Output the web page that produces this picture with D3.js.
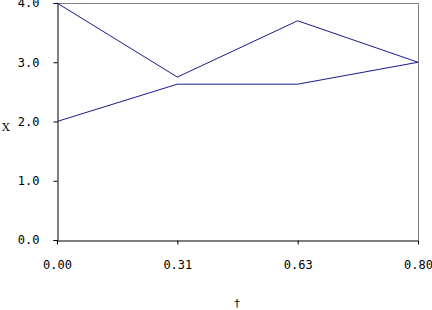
<!DOCTYPE html>
<html>
<head>
<meta charset="utf-8">
<script src="https://cdn.jsdelivr.net/npm/d3@7"></script>
<style>
  body { margin: 0; background: #fff; }
  text { font-family: "DejaVu Sans Mono", monospace; font-size: 11px; fill: #000; }
</style>
</head>
<body>
<div id="chart"></div>
<script>
// category labels along the bottom axis
var categories = ["0.00", "0.31", "0.63", "0.80"];
// the two series
var seriesA = [4.0, 2.75, 3.7, 3.0];
var seriesB = [2.0, 2.63, 2.63, 3.0];
var yTicks = [0, 1, 2, 3, 4];

var width = 432, height = 310,
    margin = { top: 3, right: 14, bottom: 70, left: 57 },
    plotW = 418 - margin.left,
    plotH = 240 - margin.top;

var svg = d3.select("#chart").append("svg")
    .attr("width", width)
    .attr("height", height);

var g = svg.append("g")
    .attr("transform", "translate(" + margin.left + "," + margin.top + ")");

var x = d3.scalePoint().domain(categories).range([0, plotW]);
var y = d3.scaleLinear().domain([0, 4]).range([plotH, 0]);

// grey frame on top and right
g.append("path")
    .attr("d", "M0.5,0.5H" + (plotW + 0.5) + "V" + plotH)
    .attr("fill", "none")
    .attr("stroke", "#808080");

// y axis
var yAxis = g.append("g")
    .attr("transform", "translate(0.5,0)")
    .call(d3.axisLeft(y).tickValues(yTicks).tickFormat(d3.format(".1f")).tickSize(4).tickPadding(14));
yAxis.select(".domain").attr("stroke", "#000");
yAxis.selectAll("text").style("font-size", "12px");

// x axis
var xAxis = g.append("g")
    .attr("transform", "translate(0," + (plotH + 0.5) + ")")
    .call(d3.axisBottom(x).tickSize(4).tickPadding(16).tickSizeOuter(0));
xAxis.select(".domain").attr("stroke", "#000");
xAxis.selectAll("text").style("font-size", "12px");

var line = d3.line()
    .x(function (d, i) { return x(categories[i]); })
    .y(function (d) { return y(d); });

[seriesA, seriesB].forEach(function (s) {
    g.append("path")
        .datum(s)
        .attr("d", line)
        .attr("fill", "none")
        .attr("stroke", "#1a1a8c")
        .attr("stroke-width", 1);
});

// axis titles
svg.append("text")
    .attr("x", 6)
    .attr("y", 131)
    .attr("text-anchor", "middle")
    .style("font-family", "'DejaVu Serif', serif")
    .style("font-size", "11px")
    .text("X");

svg.append("text")
    .attr("x", 237)
    .attr("y", 307)
    .attr("text-anchor", "middle")
    .text("†");
</script>
</body>
</html>
